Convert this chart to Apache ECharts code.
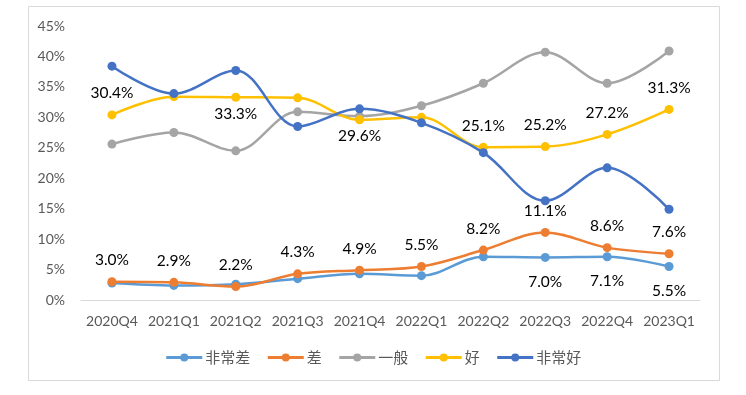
<!DOCTYPE html>
<html>
<head>
<meta charset="utf-8">
<script src="https://cdn.jsdelivr.net/npm/echarts@6/dist/echarts.min.js"></script>
<style>html,body{margin:0;padding:0;background:#fff}#c{width:746px;height:395px}</style>
</head>
<body>
<div id="c"></div>
<script>
const categories = ['2020Q4','2021Q1','2021Q2','2021Q3','2021Q4','2022Q1','2022Q2','2022Q3','2022Q4','2023Q1'];
const seriesNames = ['非常差','差','一般','好','非常好'];
const veryBad  = [2.8, 2.4, 2.6, 3.5, 4.3, 4.0, 7.1, 7.0, 7.1, 5.5];
const bad      = [3.0, 2.9, 2.2, 4.3, 4.9, 5.5, 8.2, 11.1, 8.6, 7.6];
const neutral  = [25.6, 27.5, 24.5, 30.9, 30.2, 31.9, 35.6, 40.7, 35.6, 40.9];
const good     = [30.4, 33.4, 33.3, 33.2, 29.6, 30.0, 25.1, 25.2, 27.2, 31.3];
const veryGood = [38.4, 33.9, 37.7, 28.5, 31.4, 29.1, 24.2, 16.3, 21.7, 14.9];
const yTicks = [0, 5, 10, 15, 20, 25, 30, 35, 40, 45];

const colors = ['#5B9BD5', '#ED7D31', '#A5A5A5', '#FFC000', '#4472C4'];
const fmt = v => v.toFixed(1) + '%';

// label rules (which points carry a label and where)
const labelRule = {
  0: i => i >= 7 ? {position: 'bottom', distance: 12} : null,
  1: i => ({position: 'top', distance: 9}),
  2: i => null,
  3: i => ({0:{position:'top',distance:9},2:{position:'bottom',distance:4},4:{position:'bottom',distance:4},
            6:{position:'top',distance:9},7:{position:'top',distance:9},8:{position:'top',distance:9},9:{position:'top',distance:9}})[i] || null,
  4: i => null
};

const allValues = [veryBad, bad, neutral, good, veryGood];
const series = allValues.map((vals, s) => ({
  name: seriesNames[s],
  type: 'line',
  smooth: 0.35,
  symbol: 'circle',
  symbolSize: 9,
  z: 2 + s,
  lineStyle: {width: 2.5, color: colors[s]},
  itemStyle: {color: colors[s]},
  data: vals.map((v, i) => {
    const r = labelRule[s](i);
    return r ? {value: v, label: {show: true, position: r.position, distance: r.distance,
      formatter: p => fmt(p.value), color: '#000', fontFamily: 'Lato', fontSize: 15.5}} : {value: v};
  })
}));

const chart = echarts.init(document.getElementById('c'), null, {renderer: 'canvas'});
chart.setOption({
  animation: false,
  color: colors,
  graphic: [{type: 'rect', shape: {x: 28.5, y: 6.5, width: 691, height: 374},
    style: {fill: 'none', stroke: '#D9D9D9', lineWidth: 1}, silent: true, z: -1}],
  grid: {left: 81, right: 46, top: 26, bottom: 95, containLabel: false},
  legend: {
    data: seriesNames, top: 345, left: 'center',
    itemWidth: 36, itemHeight: 10, itemGap: 16,
    lineStyle: {width: 3},
    textStyle: {color: '#595959', fontSize: 15, fontFamily: 'Noto Sans CJK SC', padding: [0, 0, 0, -2]}
  },
  xAxis: {
    type: 'category', data: categories, boundaryGap: true,
    axisLine: {lineStyle: {color: '#D9D9D9', width: 1}},
    axisTick: {show: false},
    axisLabel: {interval: 0, color: '#595959', fontFamily: 'Lato', fontSize: 14, margin: 14}
  },
  yAxis: {
    type: 'value', min: yTicks[0], max: yTicks[yTicks.length - 1], interval: 5,
    axisLine: {show: false}, axisTick: {show: false}, splitLine: {show: false},
    axisLabel: {color: '#595959', fontFamily: 'Lato', fontSize: 14, margin: 16, formatter: '{value}%'}
  },
  series: series
});
</script>
</body>
</html>
